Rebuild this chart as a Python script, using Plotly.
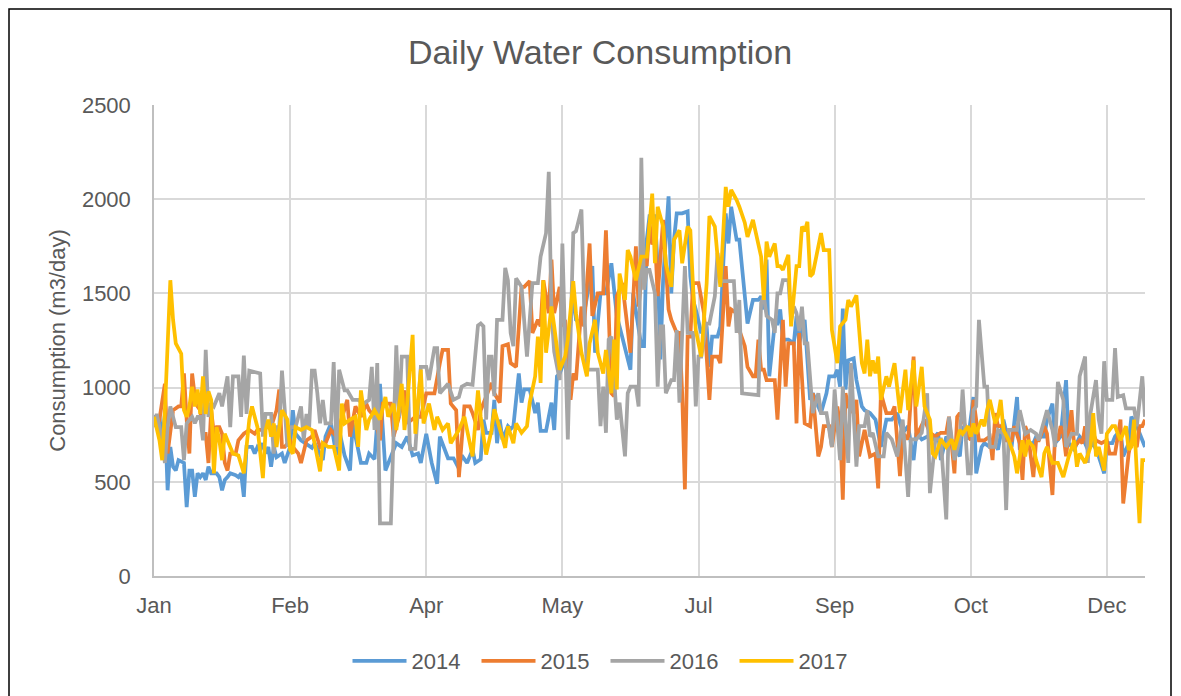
import pandas as pd
import plotly.graph_objects as go

# ---------------- data (day offset from 1 Jan, daily consumption m3/day) ----------------
YEAR_START = "2017-01-01"
YEAR_END = "2017-12-31"
SERIES_NAMES = ["2014", "2015", "2016", "2017"]
SERIES_COLORS = ["#5B9BD5", "#ED7D31", "#A5A5A5", "#FFC000"]
TICK_DAYS_STEP = 50
Y_MAX = 2500
Y_STEP = 500

DAYS_2014 = [
    0, 2, 3, 4, 5, 6, 7, 8, 9, 11,
    12, 13, 14, 15, 16, 17, 18, 19, 20, 21,
    23, 24, 25, 26, 27, 28, 30, 31, 32, 33,
    34, 36, 37, 38, 39, 40, 41, 42, 43, 44,
    45, 47, 48, 50, 51, 52, 54, 56, 58, 59,
    62, 63, 65, 67, 68, 70, 72, 73, 76, 78,
    79, 81, 83, 85, 87, 89, 91, 93, 95, 97,
    98, 100, 102, 104, 105, 108, 110, 112, 113, 115,
    117, 118, 120, 121, 122, 124, 125, 126, 127, 128,
    130, 131, 132, 134, 135, 136, 138, 140, 141, 142,
    144, 146, 147, 148, 149, 151, 152, 154, 155, 157,
    158, 161, 162, 164, 166, 168, 170, 171, 175, 176,
    179, 180, 181, 182, 184, 185, 186, 187, 189, 190,
    191, 192, 194, 196, 197, 198, 199, 201, 203, 204,
    205, 207, 208, 210, 211, 212, 214, 215, 217, 218,
    220, 222, 223, 224, 225, 226, 228, 229, 230, 231,
    233, 235, 236, 237, 239, 241, 242, 245, 247, 248,
    250, 251, 252, 253, 254, 255, 257, 258, 260, 261,
    263, 265, 267, 269, 271, 273, 275, 277, 279, 280,
    282, 284, 286, 288, 289, 291, 294, 296, 297, 299,
    301, 302, 304, 305, 307, 309, 310, 312, 314, 315,
    317, 318, 320, 321, 323, 324, 326, 327, 328, 330,
    331, 333, 335, 336, 338, 340, 342, 343, 345, 347,
    349, 350, 352, 353, 355, 356, 358, 359, 361, 362,
    364,
]
CONS_2014 = [
    845, 845, 720, 860, 455, 685, 580, 560, 615, 600,
    365, 560, 560, 420, 545, 525, 545, 510, 580, 545,
    545, 525, 455, 510, 525, 545, 535, 525, 545, 420,
    685, 685, 650, 685, 670, 705, 650, 685, 580, 685,
    630, 650, 600, 685, 880, 755, 720, 700, 680, 705,
    615, 740, 810, 640, 775, 640, 560, 810, 600, 600,
    650, 620, 1020, 560, 635, 705, 685, 740, 640, 650,
    600, 755, 600, 490, 740, 625, 625, 570, 640, 600,
    670, 600, 620, 830, 760, 760, 935, 705, 830, 725,
    795, 780, 795, 1075, 920, 990, 990, 865, 920, 770,
    770, 920, 775, 1060, 1075, 1150, 1185, 1500, 1360, 1340,
    1395, 1645, 1185, 1500, 1500, 1660, 1380, 1325, 1095, 1500,
    1220, 1220, 1785, 1910, 1910, 1645, 1150, 1570, 2015, 1500,
    1785, 1925, 1925, 1935, 1590, 1465, 1415, 1290, 1325, 1110,
    1270, 1270, 1325, 1925, 1765, 1960, 1785, 1785, 1450, 1340,
    1465, 1465, 1485, 1415, 1680, 1060, 1340, 1340, 1415, 1255,
    1255, 1235, 1380, 1235, 1360, 935, 970, 865, 970, 1060,
    1060, 1095, 1005, 1420, 990, 1145, 1155, 1040, 900, 880,
    865, 830, 685, 830, 830, 865, 760, 795, 615, 760,
    725, 740, 725, 760, 615, 740, 685, 635, 795, 725,
    950, 545, 685, 705, 685, 705, 670, 830, 705, 685,
    950, 670, 705, 705, 705, 740, 740, 740, 830, 915,
    705, 740, 1040, 705, 670, 740, 705, 670, 705, 635,
    545, 705, 705, 740, 775, 635, 705, 845, 795, 755,
    685,
]

DAYS_2015 = [
    0, 2, 4, 5, 7, 9, 10, 11, 12, 13,
    14, 15, 16, 17, 18, 19, 20, 21, 22, 23,
    24, 25, 26, 27, 28, 30, 31, 33, 35, 37,
    38, 40, 41, 43, 45, 46, 47, 48, 50, 51,
    53, 54, 56, 58, 59, 61, 63, 65, 67, 69,
    71, 72, 74, 76, 78, 79, 81, 83, 84, 87,
    88, 90, 92, 93, 96, 98, 100, 101, 103, 105,
    106, 108, 109, 111, 112, 114, 116, 117, 119, 120,
    122, 124, 125, 127, 128, 130, 131, 133, 135, 136,
    138, 139, 141, 142, 143, 145, 146, 147, 149, 150,
    151, 153, 154, 155, 157, 158, 160, 161, 163, 165,
    166, 167, 168, 169, 170, 172, 174, 175, 177, 178,
    180, 181, 182, 183, 184, 185, 187, 188, 189, 190,
    192, 193, 194, 195, 196, 197, 198, 200, 202, 204,
    205, 207, 208, 210, 211, 212, 214, 215, 217, 218,
    220, 221, 222, 223, 224, 225, 227, 228, 229, 231,
    232, 233, 235, 236, 237, 239, 241, 242, 244, 245,
    246, 248, 249, 251, 252, 253, 254, 255, 257, 258,
    259, 261, 262, 263, 265, 266, 267, 269, 271, 272,
    274, 275, 277, 279, 280, 282, 283, 285, 287, 289,
    291, 292, 294, 295, 296, 298, 300, 301, 303, 305,
    307, 308, 309, 310, 312, 313, 315, 316, 318, 319,
    320, 321, 323, 324, 325, 327, 328, 330, 331, 332,
    333, 334, 335, 337, 338, 340, 341, 342, 343, 345,
    346, 348, 350, 351, 353, 355, 356, 358, 359, 361,
    362, 363, 364,
]
CONS_2015 = [
    845, 830, 1020, 650, 880, 900, 900, 1075, 830, 650,
    1075, 950, 900, 880, 755, 755, 600, 880, 755, 790,
    790, 755, 600, 560, 650, 650, 720, 755, 775, 755,
    775, 775, 790, 790, 880, 990, 685, 685, 720, 685,
    650, 600, 720, 740, 775, 685, 705, 775, 740, 845,
    935, 740, 900, 845, 915, 880, 845, 720, 915, 915,
    740, 845, 985, 810, 845, 845, 970, 970, 970, 1130,
    1200, 1200, 915, 880, 525, 900, 900, 865, 775, 880,
    955, 1025, 970, 920, 1220, 1230, 1130, 1110, 1535, 1535,
    1565, 1290, 1360, 1325, 1570, 1395, 1680, 1395, 1535, 1325,
    1360, 935, 1075, 1040, 1430, 1325, 1765, 1380, 1500, 1500,
    1835, 1430, 970, 955, 1485, 1555, 1325, 1185, 1750, 1430,
    1715, 1645, 1875, 1760, 1800, 1485, 1890, 1660, 1415, 1360,
    1290, 1290, 970, 460, 1270, 1270, 1555, 1555, 1395, 935,
    1165, 1165, 1130, 1645, 1325, 1415, 1395, 1305, 1220, 1110,
    1060, 1060, 1255, 1095, 1095, 1040, 1040, 1040, 830, 1360,
    1005, 1235, 1235, 810, 1290, 810, 795, 970, 635, 685,
    795, 795, 685, 900, 795, 405, 970, 900, 865, 935,
    635, 775, 705, 635, 650, 465, 970, 865, 865, 900,
    530, 760, 725, 1165, 740, 795, 830, 760, 740, 760,
    760, 845, 545, 845, 865, 795, 720, 935, 720, 720,
    740, 615, 865, 795, 795, 720, 720, 795, 705, 510,
    795, 755, 525, 720, 720, 795, 755, 430, 755, 720,
    795, 755, 635, 880, 685, 720, 705, 795, 685, 755,
    720, 705, 720, 650, 650, 830, 385, 650, 720, 685,
    795, 795, 830,
]

DAYS_2016 = [
    0, 1, 3, 4, 5, 6, 8, 10, 11, 12,
    14, 15, 16, 17, 18, 19, 20, 21, 22, 24,
    25, 27, 28, 29, 31, 32, 33, 34, 35, 39,
    40, 41, 43, 44, 45, 46, 47, 49, 50, 52,
    54, 55, 56, 57, 58, 59, 60, 61, 62, 63,
    65, 66, 67, 68, 70, 71, 73, 75, 77, 79,
    80, 81, 82, 83, 87, 89, 90, 91, 93, 94,
    96, 98, 100, 101, 103, 104, 105, 106, 108, 110,
    112, 113, 115, 117, 119, 120, 121, 122, 123, 124,
    125, 126, 128, 129, 130, 131, 132, 133, 135, 137,
    138, 139, 141, 142, 144, 145, 146, 147, 149, 150,
    152, 153, 154, 155, 157, 158, 159, 161, 163, 164,
    165, 166, 167, 168, 170, 171, 173, 174, 175, 177,
    178, 179, 180, 181, 182, 184, 185, 186, 187, 188,
    190, 191, 192, 193, 195, 196, 198, 199, 200, 201,
    203, 204, 206, 207, 208, 209, 211, 213, 214, 215,
    216, 220, 222, 223, 224, 225, 227, 228, 229, 230,
    231, 233, 234, 235, 236, 237, 238, 239, 240, 242,
    244, 245, 247, 249, 250, 252, 253, 255, 256, 258,
    259, 261, 262, 263, 264, 266, 268, 269, 271, 273,
    275, 277, 278, 280, 282, 284, 285, 287, 289, 291,
    292, 294, 296, 297, 299, 300, 301, 302, 303, 305,
    306, 307, 309, 310, 312, 313, 314, 317, 318, 320,
    322, 324, 325, 326, 328, 330, 331, 332, 334, 335,
    337, 339, 340, 342, 343, 344, 346, 347, 348, 349,
    350, 352, 353, 354, 356, 357, 359, 360, 361, 363,
    364,
]
CONS_2016 = [
    790, 860, 720, 600, 790, 900, 790, 790, 615, 810,
    845, 810, 845, 845, 720, 1200, 845, 915, 900, 970,
    900, 1060, 790, 1060, 1060, 845, 1170, 860, 1090, 1075,
    740, 860, 860, 650, 790, 790, 1090, 685, 790, 790,
    900, 720, 860, 790, 1090, 1090, 970, 810, 935, 810,
    810, 1135, 685, 1095, 985, 985, 935, 935, 915, 935,
    1110, 775, 1130, 280, 280, 1225, 845, 1165, 1165, 675,
    675, 1110, 1110, 1040, 1210, 1210, 970, 985, 1020, 935,
    950, 1005, 1020, 1015, 1330, 1340, 1325, 830, 1165, 1165,
    955, 1360, 1360, 1635, 1570, 1290, 1220, 1580, 1535, 1165,
    1340, 1555, 1555, 1695, 1820, 2145, 1395, 1190, 1040, 1765,
    725, 1290, 1820, 1830, 1945, 1430, 1095, 1095, 1095, 795,
    1005, 760, 1255, 1270, 830, 920, 635, 970, 1005, 1005,
    900, 2220, 1520, 1625, 1625, 1500, 1005, 1325, 1325, 970,
    1040, 1040, 1305, 920, 1645, 1290, 1290, 900, 1165, 1165,
    1340, 1340, 1485, 1715, 1570, 1565, 1565, 1565, 1290, 1465,
    970, 960, 960, 1450, 1485, 1380, 1360, 1290, 1500, 1500,
    1570, 1570, 1360, 1430, 1395, 1300, 1430, 1235, 1235, 865,
    970, 865, 865, 685, 990, 615, 1005, 600, 1130, 580,
    795, 795, 880, 740, 760, 635, 635, 760, 725, 635,
    830, 420, 725, 725, 760, 970, 440, 725, 725, 300,
    845, 615, 725, 990, 545, 545, 880, 900, 1360, 1005,
    1005, 685, 685, 775, 755, 350, 775, 775, 880, 755,
    775, 755, 720, 775, 880, 775, 685, 1030, 935, 685,
    755, 755, 1060, 1165, 600, 865, 1040, 830, 755, 1140,
    935, 935, 1210, 950, 960, 890, 890, 890, 795, 1060,
    845,
]

DAYS_2017 = [
    0, 2, 3, 4, 6, 7, 8, 10, 11, 12,
    13, 14, 15, 16, 17, 18, 19, 20, 21, 22,
    23, 24, 25, 26, 27, 29, 31, 33, 35, 36,
    38, 39, 40, 41, 42, 43, 44, 45, 46, 47,
    49, 50, 51, 52, 54, 56, 58, 59, 60, 61,
    62, 64, 66, 68, 69, 70, 72, 74, 75, 76,
    78, 79, 81, 83, 85, 86, 88, 89, 91, 92,
    93, 95, 96, 98, 99, 101, 103, 104, 106, 108,
    109, 112, 114, 116, 117, 119, 120, 122, 124, 125,
    127, 128, 129, 130, 132, 133, 135, 137, 138, 140,
    141, 142, 143, 144, 146, 147, 149, 151, 152, 154,
    155, 157, 159, 160, 162, 163, 165, 166, 168, 169,
    170, 171, 173, 174, 175, 177, 179, 181, 183, 184,
    185, 187, 188, 190, 191, 193, 194, 196, 197, 198,
    199, 201, 203, 204, 206, 208, 210, 211, 212, 214,
    215, 217, 218, 220, 221, 223, 224, 225, 226, 228,
    229, 230, 231, 233, 234, 236, 237, 238, 239, 240,
    241, 242, 245, 246, 248, 249, 251, 252, 254, 255,
    256, 258, 260, 261, 262, 263, 264, 265, 266, 267,
    269, 270, 272, 274, 276, 277, 279, 280, 282, 283,
    285, 286, 287, 289, 291, 293, 294, 296, 297, 299,
    300, 301, 302, 304, 305, 306, 307, 309, 310, 311,
    312, 314, 316, 317, 319, 320, 321, 323, 324, 326,
    327, 328, 330, 332, 334, 335, 336, 338, 339, 340,
    342, 344, 345, 346, 347, 349, 350, 352, 353, 354,
    355, 357, 358, 359, 360, 361, 362, 363, 364,
]
CONS_2017 = [
    845, 720, 615, 880, 1570, 1360, 1235, 1180, 880, 845,
    900, 1005, 900, 990, 860, 1060, 860, 980, 935, 545,
    790, 720, 615, 755, 720, 650, 640, 545, 830, 900,
    790, 650, 520, 775, 830, 740, 810, 685, 775, 880,
    830, 670, 650, 790, 775, 790, 775, 700, 615, 555,
    705, 685, 685, 560, 915, 810, 830, 845, 685, 985,
    775, 830, 880, 830, 950, 845, 915, 775, 1020, 775,
    915, 1280, 755, 1095, 810, 915, 775, 845, 775, 810,
    705, 775, 845, 705, 635, 985, 845, 645, 775, 885,
    775, 725, 680, 795, 705, 810, 760, 795, 920, 1060,
    1270, 1025, 1570, 1185, 1430, 1325, 1095, 1165, 1255, 1565,
    1395, 1185, 1060, 1235, 1360, 1185, 1075, 1200, 970, 1255,
    990, 1605, 1465, 1730, 1695, 1570, 1695, 1695, 2030, 1660,
    1960, 1855, 1660, 1535, 1785, 1835, 1660, 1855, 1835, 1535,
    1305, 1165, 1555, 1910, 1855, 1535, 2065, 1960, 2050, 1995,
    1960, 1875, 1800, 1890, 1820, 1695, 1465, 1775, 1695, 1765,
    1645, 1645, 1625, 1705, 1325, 1645, 1645, 1855, 1830, 1880,
    1590, 1605, 1820, 1730, 1730, 1305, 1130, 1325, 1360, 1465,
    1430, 1490, 1130, 1075, 1255, 1060, 1145, 1075, 1165, 935,
    1060, 1005, 1130, 865, 1095, 880, 1145, 900, 1110, 900,
    830, 650, 635, 725, 685, 725, 670, 775, 755, 795,
    740, 810, 755, 830, 795, 880, 935, 810, 845, 935,
    775, 720, 635, 545, 720, 635, 720, 685, 615, 525,
    650, 685, 600, 600, 525, 580, 635, 720, 580, 650,
    600, 685, 865, 635, 685, 560, 755, 795, 795, 755,
    720, 795, 670, 685, 830, 545, 280, 615, 615,
]

SERIES_DAYS = [DAYS_2014, DAYS_2015, DAYS_2016, DAYS_2017]
SERIES_VALUES = [CONS_2014, CONS_2015, CONS_2016, CONS_2017]


def to_dates(days):
    base = pd.Timestamp(YEAR_START)
    return [base + pd.Timedelta(days=d) for d in days]


# ---------------- figure ----------------
W, H = 1181, 696
ML, MR, MT, MB = 146, 44, 97, 128
PW, PH = W - ML - MR, H - MT - MB

fig = go.Figure()
for name, days, vals, color in zip(SERIES_NAMES, SERIES_DAYS, SERIES_VALUES, SERIES_COLORS):
    pairs = list(zip(days, vals))
    fig.add_trace(go.Scatter(
        x=to_dates([p[0] for p in pairs]),
        y=[p[1] for p in pairs],
        mode="lines",
        name=name,
        line=dict(color=color, width=3.75),
    ))

TEXT = "#595959"
FONT = "Liberation Sans, Arial, sans-serif"

fig.update_layout(
    width=W, height=H,
    margin=dict(l=ML, r=MR, t=MT, b=MB, autoexpand=False),
    paper_bgcolor="white", plot_bgcolor="white",
    font=dict(family=FONT, color=TEXT, size=22),
    title=dict(text="Daily Water Consumption", xref="container", x=592 / W, xanchor="center",
               yref="container", y=1 - 44 / H, yanchor="middle",
               font=dict(size=34, color=TEXT, family=FONT)),
    legend=dict(orientation="h", x=(597.5 - ML) / PW, xanchor="center",
                y=(PH + MT - 653) / PH, yanchor="middle",
                font=dict(size=22, color=TEXT, family=FONT),
                itemwidth=54, entrywidth=60, entrywidthmode="pixels",
                bgcolor="rgba(0,0,0,0)"),
    showlegend=True,
)

fig.update_xaxes(
    type="date", range=[YEAR_START, YEAR_END],
    tick0=YEAR_START, dtick=TICK_DAYS_STEP * 86400000, tickformat="%b",
    showgrid=True, gridcolor="#D9D9D9", gridwidth=1.5,
    showline=True, linecolor="#BFBFBF", linewidth=1.5,
    ticks="", ticklabelstandoff=9, zeroline=False,
    tickfont=dict(size=22, color=TEXT, family=FONT),
)
fig.update_yaxes(
    range=[0, Y_MAX], dtick=Y_STEP, tick0=0,
    showgrid=True, gridcolor="#D9D9D9", gridwidth=1.5,
    showline=True, linecolor="#BFBFBF", linewidth=1.5,
    ticks="", ticklabelstandoff=17, zeroline=False,
    tickfont=dict(size=22, color=TEXT, family=FONT),
    title=dict(text="Consumption (m3/day)", standoff=10,
               font=dict(size=22, color=TEXT, family=FONT)),
)

# chart border (figure pixels 1 .. 1163 horizontally, from 1 down past the bottom)
fig.add_shape(type="rect", xref="paper", yref="paper",
              x0=(1 - ML) / PW, x1=(1163 - ML) / PW,
              y0=(PH + MT - 720) / PH, y1=(PH + MT - 1) / PH,
              line=dict(color="#000000", width=1.5), fillcolor="rgba(0,0,0,0)", layer="below")

fig.write_html("out.html")
